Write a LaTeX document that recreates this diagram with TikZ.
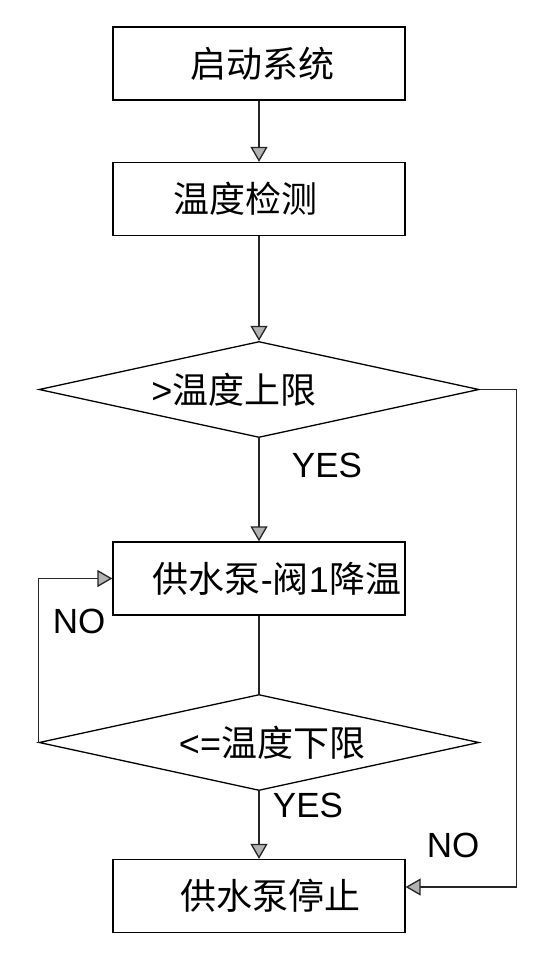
\documentclass[tikz,border=0pt]{standalone}
\usepackage{fontspec}
\setmainfont{Liberation Sans}
\newfontfamily\cjk{Noto Sans CJK SC}
\usetikzlibrary{arrows.meta,shapes.geometric}
\begin{document}
\begin{tikzpicture}[x=1pt,y=-1pt,
  box/.style={draw=black,line width=1.3pt,rectangle,minimum width=292pt,minimum height=73pt,inner sep=0pt,font=\fontsize{36pt}{40pt}\selectfont},
  dia/.style={draw=black,line width=1.3pt,diamond,aspect=4.6,minimum width=440pt,minimum height=96pt,inner sep=0pt,font=\fontsize{36pt}{40pt}\selectfont},
  conn/.style={line width=1.3pt,draw=black!85},
  arr/.style={conn,-{Triangle[length=15pt,width=17pt,fill=gray!60]}},
  lbl/.style={font=\fontsize{35pt}{40pt}\selectfont,inner sep=0pt}
]
\useasboundingbox (0,0) rectangle (559,979);
\fill[white] (0,0) rectangle (559,979);
\node[box] (b1) at (259,63.5) {\hspace*{6pt}\cjk 启动系统};
\node[box] (b2) at (259,199) {\hspace*{-28pt}\cjk 温度检测};
\node[dia] (d1) at (259,389.5) {\hspace*{-50pt}>{\cjk 温度上限}};
\node[box] (b3) at (259,578.5) {\hspace*{36pt}{\cjk 供水泵}-{\cjk 阀}1{\cjk 降温}};
\node[dia] (d2) at (259,742.5) {\hspace*{26pt}<={\cjk 温度下限}};
\node[box] (b4) at (259,896) {\hspace*{22pt}\cjk 供水泵停止};
\draw[arr] (b1) -- (b2);
\draw[arr] (b2) -- (d1);
\draw[arr] (d1) -- (b3);
\draw[conn] (b3) -- (d2);
\draw[arr] (d2.west) |- (b3.west);
\draw[arr] (d2) -- (b4);
\draw[arr] (d1.east) -- ++(37,0) |- ([yshift=9pt]b4.east);
\node[lbl] (y1) at (327,465) {YES};
\node[lbl] (y2) at (308,805) {YES};
\node[lbl] (n1) at (79,621) {NO};
\node[lbl] (n2) at (453,845) {NO};
\end{tikzpicture}
\end{document}
